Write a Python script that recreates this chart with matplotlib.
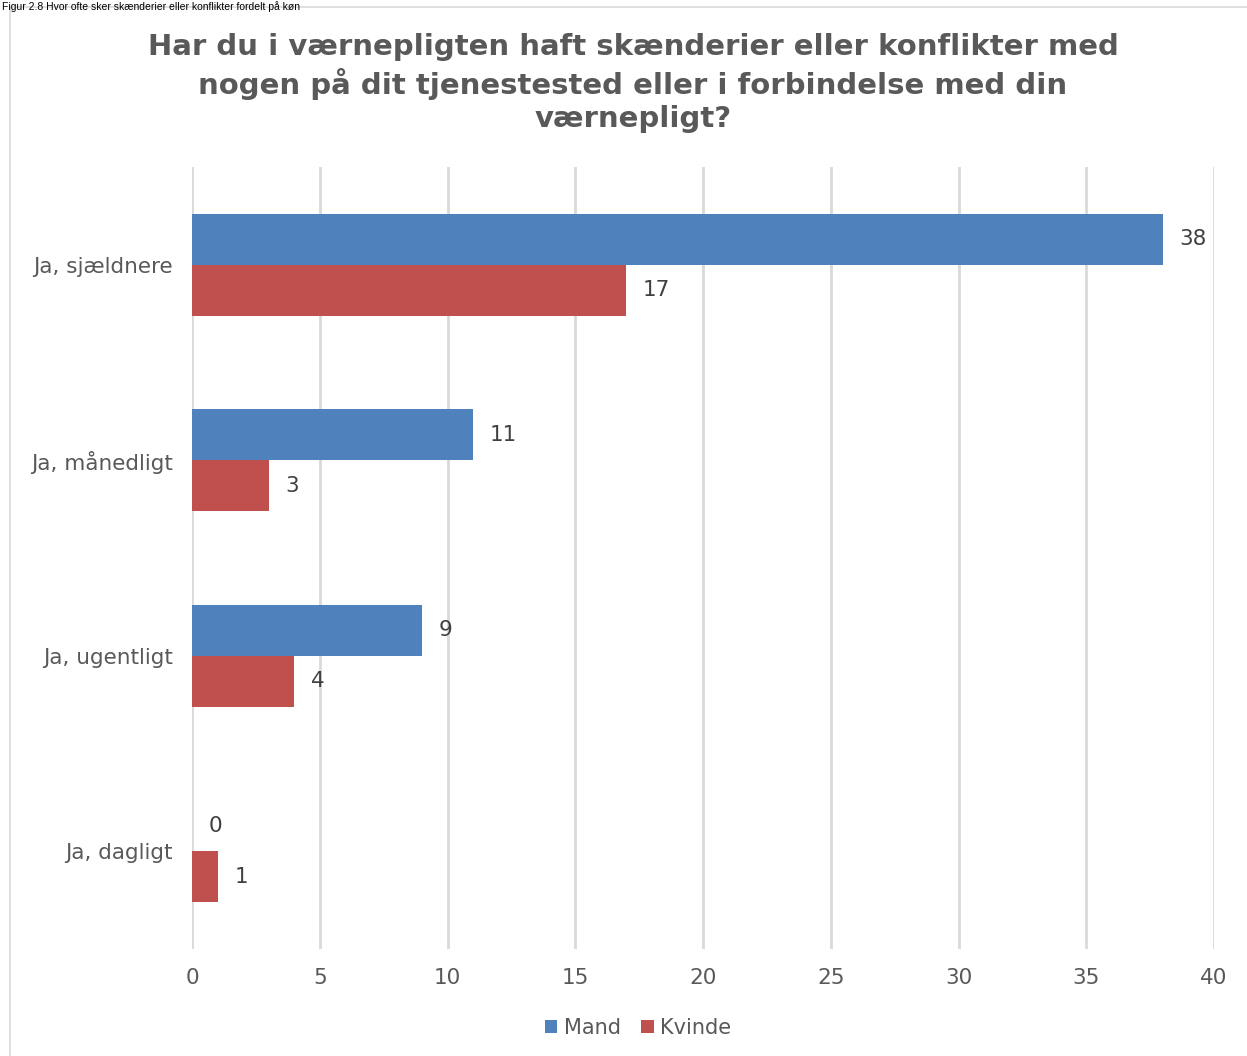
import matplotlib.pyplot as plt
import numpy as np
from matplotlib.patches import Rectangle

plt.switch_backend('Agg')
plt.rcParams['font.family'] = ['DejaVu Sans']

categories = ['Ja, sjældnere', 'Ja, månedligt', 'Ja, ugentligt', 'Ja, dagligt']
mand = [38, 11, 9, 0]
kvinde = [17, 3, 4, 1]
series = ['Mand', 'Kvinde']
colors = ['#4F81BD', '#C0504D']
x_ticks = [0, 5, 10, 15, 20, 25, 30, 35, 40]
title = ('Har du i værnepligten haft skænderier eller konflikter med\n'
         'nogen på dit tjenestested eller i forbindelse med din\n'
         'værnepligt?')
caption = 'Figur 2.8 Hvor ofte sker skænderier eller konflikter fordelt på køn'

W, H = 1247, 1056
fig = plt.figure(figsize=(W / 100, H / 100), dpi=100)

# outer chart border (runs off the right/bottom edge)
fig.patches.append(Rectangle((10 / W, 0 - 10 / H), 1.0, 1 - 7 / H + 10 / H,
                             transform=fig.transFigure, fill=False,
                             edgecolor='#d9d9d9', linewidth=1.2))
fig.text(2 / W, 1 - 1 / H, caption, ha='left', va='top', fontsize=7.5,
         family='Liberation Sans', color='black')

ax = fig.add_axes([192 / W, 1 - 949 / H, (1214 - 192) / W, (949 - 167) / H])

y = np.arange(len(categories))
h = 0.26
text_col = '#595959'
fs = 15.5
for vals, off, col, name in [(mand, -h / 2, colors[0], series[0]),
                             (kvinde, h / 2, colors[1], series[1])]:
    ax.barh(y + off, vals, height=h, color=col, label=name, zorder=3)
    for yi, v in zip(y + off, vals):
        ax.annotate(str(v), (v, yi), xytext=(12, 0), textcoords='offset points',
                    ha='left', va='center', fontsize=fs, color='#404040')

ax.set_xlim(0, 40)
ax.set_ylim(3.5, -0.5)
ax.set_xticks(x_ticks)
ax.set_yticks(y)
ax.set_yticklabels(categories)
ax.tick_params(axis='both', length=0, labelsize=fs, labelcolor=text_col)
ax.tick_params(axis='x', pad=14)
ax.tick_params(axis='y', pad=14)
ax.grid(axis='x', color='#d9d9d9', linewidth=2, zorder=0)
for s in ax.spines.values():
    s.set_visible(False)

fig.text(633 / W, 1 - 83 / H, title, ha='center', va='center', fontsize=21,
         fontweight='bold', color=text_col, linespacing=1.27)

fig.legend(loc='center', bbox_to_anchor=(638 / W, 1 - 1028 / H), ncol=2,
           frameon=False, fontsize=15, handlelength=0.6, handleheight=0.6,
           handletextpad=0.3, columnspacing=1.0, labelcolor=text_col)

fig.savefig('out.png', dpi=100)
